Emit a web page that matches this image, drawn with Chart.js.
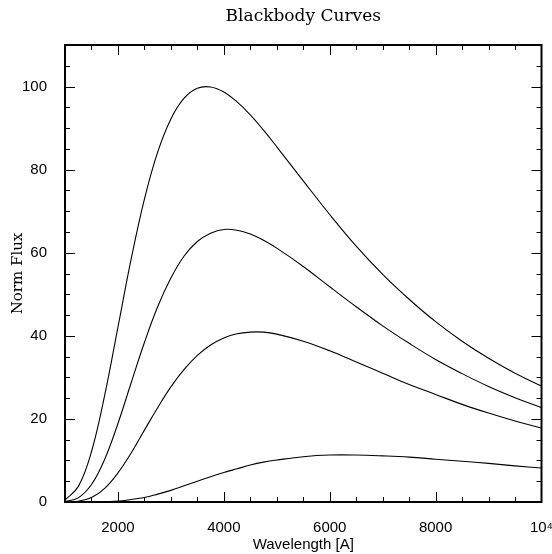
<!DOCTYPE html>
<html>
<head>
<meta charset="utf-8">
<title>Blackbody Curves</title>
<script src="https://cdn.jsdelivr.net/npm/chart.js@4.4.1/dist/chart.umd.min.js"></script>
<style>
  html, body { margin: 0; padding: 0; background: #fff; }
  canvas { display: block; }
</style>
</head>
<body>
<canvas id="myChart" width="552" height="554"></canvas>
<script>
// wavelength grid [A]
const wavelengths = [1000, 1250, 1500, 1750, 2000, 2250, 2500, 2750, 3000, 3250, 3500, 3750, 4000, 4250,
  4500, 4750, 5000, 5500, 6000, 6500, 7000, 7500, 8000, 8500, 9000, 9500, 10000];

// normalised flux (top to bottom)
const fluxA = [0.5, 3.7, 12.1, 25.7, 42.1, 58.5, 72.9, 84.2, 92.2, 97.2, 99.6, 99.9, 98.7, 96.3,
  93.2, 89.5, 85.5, 77.3, 69.2, 61.6, 54.8, 48.8, 43.4, 38.7, 34.6, 31.0, 27.9];
const fluxB = [0.1, 1.0, 4.2, 10.3, 18.9, 28.7, 38.4, 47.0, 53.9, 59.2, 62.7, 64.7, 65.6, 65.4,
  64.5, 63.0, 61.1, 56.7, 51.8, 47.0, 42.4, 38.2, 34.3, 30.9, 27.8, 25.1, 22.7];
const fluxC = [0.0, 0.2, 1.1, 3.3, 7.0, 11.8, 17.3, 22.7, 27.7, 31.9, 35.3, 37.8, 39.5, 40.5,
  40.9, 40.9, 40.4, 38.7, 36.4, 33.7, 31.0, 28.3, 25.9, 23.5, 21.4, 19.5, 17.8];
const fluxD = [0.0, 0.0, 0.0, 0.1, 0.2, 0.6, 1.1, 1.9, 2.8, 3.9, 5.0, 6.1, 7.1, 8.0,
  8.9, 9.6, 10.1, 10.9, 11.3, 11.3, 11.1, 10.8, 10.3, 9.8, 9.3, 8.7, 8.2];

const xTickLabels = [2000, 4000, 6000, 8000, 10000];
const yTickLabels = [0, 20, 40, 60, 80, 100];
const xMinorStep = 500;
const yMinorStep = 5;

function toPoints(values) {
  return values.map((v, i) => ({ x: wavelengths[i], y: v }));
}

function curve(values) {
  return {
    data: toPoints(values),
    borderColor: '#000',
    borderWidth: 1.1,
    pointRadius: 0,
    fill: false,
    tension: 0.4,
  };
}

// box round the plot with inward ticks on all four sides
const frameTicks = {
  id: 'frameTicks',
  afterDatasetsDraw(chart) {
    const { ctx, chartArea: a, scales: { x, y } } = chart;
    ctx.save();
    ctx.strokeStyle = '#000';
    ctx.lineWidth = 1;
    ctx.beginPath();
    for (let v = x.min + xMinorStep; v < x.max; v += xMinorStep) {
      const px = Math.round(x.getPixelForValue(v)) + 0.5;
      const len = xTickLabels.includes(v) ? 10 : 5;
      ctx.moveTo(px, a.bottom); ctx.lineTo(px, a.bottom - len);
      ctx.moveTo(px, a.top); ctx.lineTo(px, a.top + len);
    }
    for (let v = y.min + yMinorStep; v < y.max; v += yMinorStep) {
      const py = Math.round(y.getPixelForValue(v)) + 0.5;
      const len = yTickLabels.includes(v) ? 10 : 5;
      ctx.moveTo(a.left, py); ctx.lineTo(a.left + len, py);
      ctx.moveTo(a.right, py); ctx.lineTo(a.right - len, py);
    }
    ctx.stroke();
    ctx.lineWidth = 2;
    ctx.strokeRect(a.left, a.top, a.right - a.left, a.bottom - a.top);
    ctx.restore();
  },
};

Chart.defaults.font.family = '"Liberation Sans", Arial, sans-serif';
Chart.defaults.font.size = 15;
Chart.defaults.color = '#000';

const ctx = document.getElementById('myChart');

new Chart(ctx, {
  type: 'line',
  data: {
    datasets: [curve(fluxA), curve(fluxB), curve(fluxC), curve(fluxD)],
  },
  options: {
    responsive: false,
    animation: false,
    devicePixelRatio: 1,
    layout: { padding: { left: 0, right: 10.5, top: 0, bottom: 0 } },
    plugins: {
      legend: { display: false },
      tooltip: { enabled: false },
      title: {
        display: true,
        text: 'Blackbody Curves',
        fullSize: false,
        color: '#000',
        font: { family: '"DejaVu Serif", serif', size: 17, weight: 'normal' },
        padding: { top: 6, bottom: 18.6 },
      },
    },
    scales: {
      x: {
        type: 'linear',
        min: 1000,
        max: 10000,
        grid: { display: false },
        border: { display: false },
        ticks: {
          padding: 9,
          maxRotation: 0,
          callback: (v) => (v === 10000 ? '10\u2074' : String(v)),
        },
        afterBuildTicks: (scale) => {
          scale.ticks = xTickLabels.map((v) => ({ value: v }));
        },
        afterFit: (scale) => {
          scale.height = 52;
          scale.paddingLeft = 0;
          scale.paddingRight = 0;
        },
        title: {
          display: true,
          text: 'Wavelength [A]',
          font: { size: 15 },
          padding: { top: 0, bottom: 0 },
        },
      },
      y: {
        type: 'linear',
        min: 0,
        max: 110,
        grid: { display: false },
        border: { display: false },
        ticks: {
          padding: 10,
          callback: (v) => String(v),
        },
        afterBuildTicks: (scale) => {
          scale.ticks = yTickLabels.map((v) => ({ value: v }));
        },
        afterFit: (scale) => {
          scale.width = 65;
          scale.paddingTop = 0;
          scale.paddingBottom = 0;
        },
        title: {
          display: true,
          text: 'Norm Flux',
          font: { family: '"DejaVu Serif", serif', size: 15 },
          padding: { top: 9, bottom: 0 },
        },
      },
    },
  },
  plugins: [frameTicks],
});
</script>
</body>
</html>
